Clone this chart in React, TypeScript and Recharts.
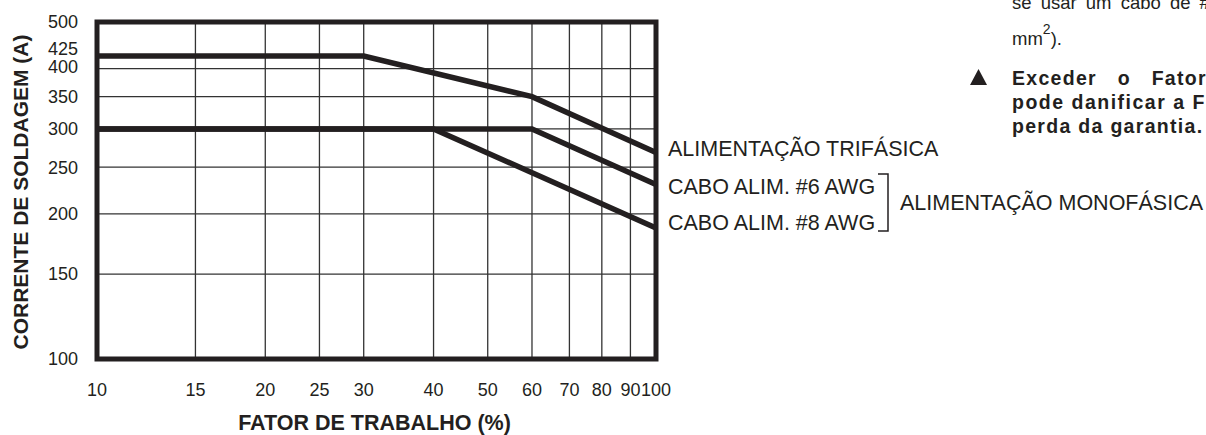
import React from "react";
import {
  LineChart,
  Line,
  XAxis,
  YAxis,
  CartesianGrid,
  ReferenceArea,
} from "recharts";

// ---- data ----
const dutyCycleTicks = [10, 15, 20, 25, 30, 40, 50, 60, 70, 80, 90, 100];
const currentTicks = [100, 150, 200, 250, 300, 350, 400, 425, 500];
const verticalGrid = [15, 20, 25, 30, 40, 50, 60, 70, 80, 90];
const horizontalGrid = [150, 200, 250, 300, 350, 400];

const dutyThreePhase = [10, 30, 60, 100];
const currentThreePhase = [425, 425, 350, 268];

const dutyAwg6 = [10, 60, 100];
const currentAwg6 = [300, 300, 230];

const dutyAwg8 = [10, 40, 100];
const currentAwg8 = [300, 300, 187];

const labelThreePhase = "ALIMENTAÇÃO TRIFÁSICA";
const labelAwg6 = "CABO ALIM. #6 AWG";
const labelAwg8 = "CABO ALIM. #8 AWG";
const labelSinglePhase = "ALIMENTAÇÃO MONOFÁSICA";
const xTitle = "FATOR DE TRABALHO (%)";
const yTitle = "CORRENTE DE SOLDAGEM (A)";

const toPoints = (xs: number[], ys: number[]) =>
  xs.map((x, i) => ({ x, y: ys[i] }));

const threePhase = toPoints(dutyThreePhase, currentThreePhase);
const awg6 = toPoints(dutyAwg6, currentAwg6);
const awg8 = toPoints(dutyAwg8, currentAwg8);

const INK = "#231f20";
const FONT = "'Liberation Sans', Arial, Helvetica, sans-serif";

// small vertical nudges so the close "425" / "400" labels don't collide
const labelNudge: Record<number, number> = { 425: -7, 400: -2 };

const YTick = (props: any) => {
  const { x, y, payload } = props;
  const nudge = labelNudge[payload.value] || 0;
  return (
    <text
      x={x}
      y={y + nudge}
      dy="0.355em"
      textAnchor="end"
      fill={INK}
      fontSize={18}
      fontFamily={FONT}
    >
      {payload.value}
    </text>
  );
};

export default function App() {
  return (
    <div
      style={{
        position: "absolute",
        left: 0,
        top: 0,
        width: 1206,
        height: 435,
        background: "#fff",
        fontFamily: FONT,
      }}
    >
      <LineChart
        width={1206}
        height={435}
        margin={{ top: 22, right: 550, bottom: 0, left: 0 }}
      >
        <CartesianGrid
          stroke="#333"
          strokeWidth={1.3}
          horizontalValues={horizontalGrid}
          verticalValues={verticalGrid}
        />
        <XAxis
          type="number"
          dataKey="x"
          scale="log"
          domain={[10, 100]}
          ticks={dutyCycleTicks}
          interval={0}
          allowDataOverflow
          axisLine={false}
          tickLine={false}
          tickSize={0}
          tickMargin={24}
          height={76}
          tick={{ fill: INK, fontSize: 18, fontFamily: FONT }}
          label={{
            value: xTitle,
            position: "insideBottom",
            offset: 5,
            dx: -2,
            fill: INK,
            fontSize: 21.5,
            fontWeight: "bold",
            fontFamily: FONT,
          }}
        />
        <YAxis
          type="number"
          dataKey="y"
          scale="log"
          domain={[100, 500]}
          ticks={currentTicks}
          interval={0}
          allowDataOverflow
          axisLine={false}
          tickLine={false}
          tickSize={0}
          tickMargin={19}
          width={97}
          tick={<YTick />}
        />
        <Line
          data={threePhase}
          dataKey="y"
          type="linear"
          stroke={INK}
          strokeWidth={5.5}
          dot={false}
          isAnimationActive={false}
        />
        <Line
          data={awg6}
          dataKey="y"
          type="linear"
          stroke={INK}
          strokeWidth={5.5}
          dot={false}
          isAnimationActive={false}
        />
        <Line
          data={awg8}
          dataKey="y"
          type="linear"
          stroke={INK}
          strokeWidth={5.5}
          dot={false}
          isAnimationActive={false}
        />
        <ReferenceArea
          x1={10}
          x2={100}
          y1={100}
          y2={500}
          fill="none"
          fillOpacity={0}
          stroke={INK}
          strokeWidth={5}
          strokeOpacity={1}
        />
      </LineChart>
      <svg
        width={1206}
        height={435}
        style={{ position: "absolute", left: 0, top: 0, pointerEvents: "none" }}
        fontFamily={FONT}
        fill={INK}
      >
        <text
          transform="translate(20,192) rotate(-90)"
          textAnchor="middle"
          dominantBaseline="central"
          fontSize={21}
          fontWeight="bold"
        >
          {yTitle}
        </text>
        <text x={668} y={156} fontSize={21.5}>{labelThreePhase}</text>
        <text x={668} y={194} fontSize={21.5}>{labelAwg6}</text>
        <text x={668} y={230} fontSize={21.5}>{labelAwg8}</text>
        <text x={900} y={210} fontSize={21.5}>{labelSinglePhase}</text>
        <polyline
          points="878,174 888,174 888,231 878,231"
          fill="none"
          stroke={INK}
          strokeWidth={1.5}
        />
        <text x={1012} y={9} fontSize={18.5} wordSpacing={4}>se usar um cabo de #</text>
        <text x={1012} y={45} fontSize={18.5}>
          mm<tspan dy={-11} fontSize={14}>2</tspan>
          <tspan dy={11}>).</tspan>
        </text>
        <polygon points="978.5,69 970,85 987,85" fill={INK} />
        <text x={1012} y={85} fontSize={19.5} fontWeight="bold" letterSpacing={1.3} wordSpacing={14}>Exceder o Fator</text>
        <text x={1012} y={109} fontSize={19.5} fontWeight="bold" letterSpacing={1.5}>pode danificar a F</text>
        <text x={1012} y={133} fontSize={19.5} fontWeight="bold" letterSpacing={1.3}>perda da garantia.</text>
      </svg>
    </div>
  );
}
